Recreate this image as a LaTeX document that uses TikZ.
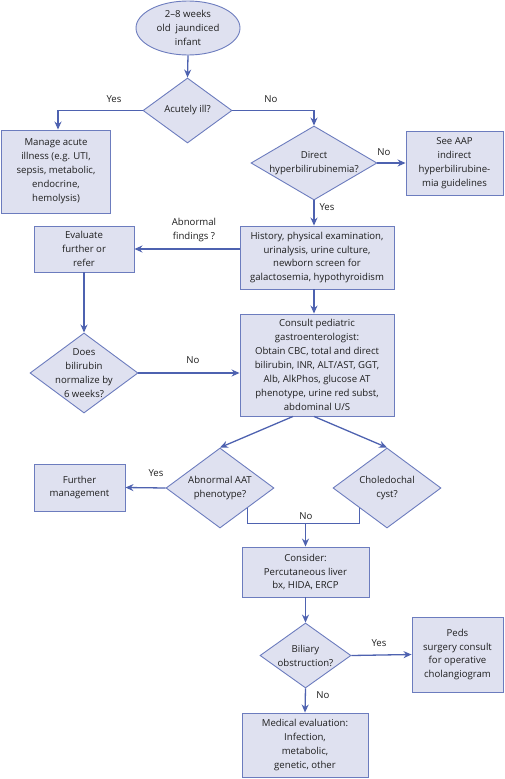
\documentclass[tikz,border=0pt]{standalone}
\usepackage{fontspec}
\setmainfont{Open Sans}
\usetikzlibrary{shapes.geometric,arrows.meta}
\definecolor{fillc}{RGB}{223,225,240}
\definecolor{edgec}{RGB}{108,124,190}
\definecolor{arrc}{RGB}{78,98,176}
\definecolor{txtc}{RGB}{30,30,30}
\tikzset{
  base/.style={fill=fillc,draw=edgec,line width=0.9pt,inner sep=0pt,align=center,text=txtc,
    font=\fontsize{9.6}{13.9}\selectfont},
  box/.style={base,rectangle},
  dia/.style={base,diamond},
  oval/.style={base,ellipse},
  lbl/.style={text=txtc,font=\fontsize{9.6}{13.9}\selectfont,inner sep=0pt,align=center},
  arr/.style={draw=arrc,line width=1.3pt,-{Stealth[length=8pt,width=7pt]}},
  ln/.style={draw=arrc,line width=1.3pt},
}
\begin{document}
\begin{tikzpicture}[x=1pt,y=-1pt]
\path[use as bounding box] (0,0) rectangle (504,779);
\node[oval,minimum width=104pt,minimum height=54pt] (start) at (188,28) {2--8 weeks\\old\ \ jaundiced\\infant};
\node[dia,minimum width=89pt,minimum height=65pt] (d1) at (187.5,110.5) {};
\node[lbl] at (d1) {Acutely ill?};
\node[box,minimum width=109pt,minimum height=83pt] (manage) at (56,171.5) {Manage acute\\illness (e.g. UTI,\\sepsis, metabolic,\\endocrine,\\hemolysis)};
\node[dia,minimum width=126pt,minimum height=74pt] (d2) at (314,163) {};
\node[lbl] at (d2) {Direct\\hyperbilirubinemia?};
\node[box,minimum width=97pt,minimum height=64pt] (aap) at (454.5,163) {See AAP\\indirect\\hyperbilirubine-\\mia guidelines};
\node[box,minimum width=154pt,minimum height=63pt] (hist) at (317,257.5) {History, physical examination,\\urinalysis, urine culture,\\newborn screen for\\galactosemia, hypothyroidism};
\node[box,minimum width=100pt,minimum height=46pt] (eval) at (84,249) {Evaluate\\further or\\refer};
\node[dia,minimum width=108pt,minimum height=80pt] (does) at (84,373) {};
\node[lbl] at (does) {Does\\bilirubin\\normalize by\\6 weeks?};
\node[box,minimum width=154pt,minimum height=102pt] (consult) at (317,365) {Consult pediatric\\gastroenterologist:\\Obtain CBC, total and direct\\bilirubin, INR, ALT/AST, GGT,\\Alb, AlkPhos, glucose AT\\phenotype, urine red subst,\\abdominal U/S};
\node[dia,minimum width=108pt,minimum height=80pt] (aat) at (220,488) {};
\node[lbl] at (aat) {Abnormal AAT\\phenotype?};
\node[dia,minimum width=108pt,minimum height=80pt] (chol) at (387,488) {};
\node[lbl] at (chol) {Choledochal\\cyst?};
\node[box,minimum width=91pt,minimum height=47pt] (further) at (79.5,487.5) {Further\\management};
\node[box,minimum width=127pt,minimum height=50pt] (consider) at (305.5,572) {Consider:\\Percutaneous liver\\bx, HIDA, ERCP};
\node[dia,minimum width=91pt,minimum height=65pt] (bil) at (305.5,655.5) {};
\node[lbl] at (bil) {Biliary\\obstruction?};
\node[box,minimum width=91pt,minimum height=75pt] (peds) at (457.5,654.5) {Peds\\surgery consult\\for operative\\cholangiogram};
\node[box,minimum width=126pt,minimum height=64pt] (med) at (305,745) {Medical evaluation:\\Infection,\\metabolic,\\genetic, other};
% connectors
\draw[arr] (start.south) -- (d1.north);
\draw[arr] (d1.west) -| ([xshift=2pt]manage.north);
\draw[arr] (d1.east) -| (d2.north);
\draw[arr] (d2.east) -- (aap.west);
\draw[arr] (d2.south) -- (d2.south |- hist.north);
\draw[arr] (hist.west |- eval.east) -- (eval.east);
\draw[arr] (eval.south) -- (does.north);
\draw[arr] (does.east) -- (does.east -| consult.west);
\draw[arr] (d2.south |- hist.south) -- (d2.south |- consult.north);
\draw[arr] ([xshift=-24pt]consult.south) -- (aat.north);
\draw[arr] ([xshift=-3pt]consult.south) -- (chol.north);
\draw[arr] (aat.west) -- (further.east);
\draw[ln] (aat.south east) -- ++(0,15) coordinate (ml) -- (ml -| chol.south west) -- (chol.south west);
\draw[arr] (consider.north |- ml) -- (consider.north);
\draw[arr] (consider.south) -- (bil.north);
\draw[arr] (bil.east) -- (peds.west);
\draw[arr] (bil.south) -- (med.north);
% labels
\node[lbl] (l1) at (114,99) {Yes};
\node[lbl] (l2) at (271,99) {No};
\node[lbl] (l3) at (384,152) {No};
\node[lbl] (l4) at (327,207) {Yes};
\node[lbl] (l5) at (194,230) {Abnormal\\findings ?};
\node[lbl] (l6) at (193,360) {No};
\node[lbl] (l7) at (156,473) {Yes};
\node[lbl] (l8) at (306,516) {No};
\node[lbl] (l9) at (379,643) {Yes};
\node[lbl] (l10) at (323,695) {No};
\end{tikzpicture}
\end{document}
